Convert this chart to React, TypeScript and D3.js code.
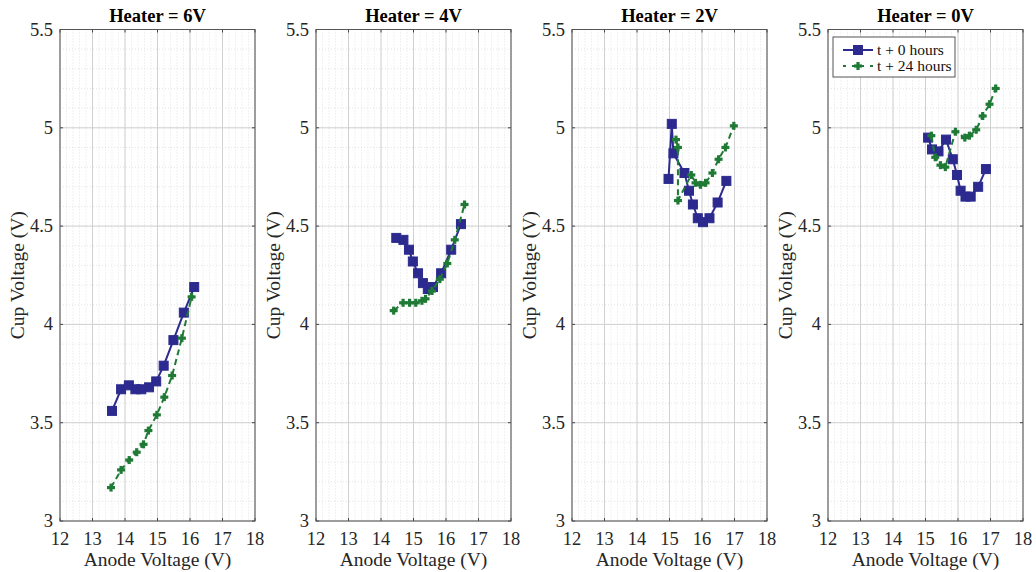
import * as d3 from "d3";

const titles = ["Heater = 6V", "Heater = 4V", "Heater = 2V", "Heater = 0V"];
const seriesNames = ["t + 0 hours", "t + 24 hours"];
const xTicks = [12, 13, 14, 15, 16, 17, 18];
const yTicks = [3, 3.5, 4, 4.5, 5, 5.5];

// t + 0 hours
const h6x0 = [13.6, 13.88, 14.12, 14.32, 14.5, 14.74, 14.96, 15.19, 15.49, 15.81, 16.13];
const h6y0 = [3.56, 3.67, 3.69, 3.67, 3.67, 3.68, 3.71, 3.79, 3.92, 4.06, 4.19];
const h4x0 = [14.47, 14.69, 14.86, 14.98, 15.14, 15.29, 15.44, 15.6, 15.85, 16.16, 16.46];
const h4y0 = [4.44, 4.43, 4.38, 4.32, 4.26, 4.21, 4.18, 4.19, 4.26, 4.38, 4.51];
const h2x0 = [14.97, 15.07, 15.12, 15.46, 15.6, 15.72, 15.87, 16.03, 16.23, 16.48, 16.75];
const h2y0 = [4.74, 5.02, 4.87, 4.77, 4.68, 4.61, 4.54, 4.52, 4.54, 4.62, 4.73];
const h0x0 = [15.08, 15.2, 15.4, 15.63, 15.84, 15.97, 16.08, 16.23, 16.39, 16.62, 16.86];
const h0y0 = [4.95, 4.89, 4.88, 4.94, 4.84, 4.76, 4.68, 4.65, 4.65, 4.7, 4.79];

// t + 24 hours
const h6x24 = [13.57, 13.88, 14.13, 14.36, 14.57, 14.72, 14.98, 15.21, 15.45, 15.75, 16.05];
const h6y24 = [3.17, 3.26, 3.31, 3.35, 3.39, 3.46, 3.54, 3.63, 3.74, 3.93, 4.14];
const h4x24 = [14.39, 14.68, 14.88, 15.07, 15.26, 15.37, 15.57, 15.81, 16.04, 16.27, 16.57];
const h4y24 = [4.07, 4.11, 4.11, 4.11, 4.12, 4.13, 4.17, 4.23, 4.31, 4.43, 4.61];
const h2x24 = [15.2, 15.26, 15.26, 15.67, 15.8, 15.95, 16.11, 16.32, 16.51, 16.72, 16.98];
const h2y24 = [4.94, 4.9, 4.63, 4.76, 4.72, 4.71, 4.72, 4.77, 4.84, 4.9, 5.01];
const h0x24 = [15.18, 15.3, 15.46, 15.61, 15.92, 16.21, 16.35, 16.56, 16.76, 16.97, 17.16];
const h0y24 = [4.96, 4.85, 4.81, 4.8, 4.98, 4.95, 4.96, 4.99, 5.06, 5.12, 5.2];

const panels = [
  { x0: h6x0, y0: h6y0, x24: h6x24, y24: h6y24 },
  { x0: h4x0, y0: h4y0, x24: h4x24, y24: h4y24 },
  { x0: h2x0, y0: h2y0, x24: h2x24, y24: h2y24 },
  { x0: h0x0, y0: h0y0, x24: h0x24, y24: h0y24 },
];

const W = 1036;
const H = 572;
const panelLeft = [60, 316, 572, 828];
const pw = 195;
const top = 29.5;
const bottom = 521;
const blue = "#2c2a8e";
const green = "#1f7a36";
const textCol = "#262626";
const font = "'Liberation Serif', 'Times New Roman', serif";

const Plus = ({ x, y }: { x: number; y: number }) => (
  <g>
    <line x1={x - 4} x2={x + 4} y1={y} y2={y} stroke={green} strokeWidth={3.2} />
    <line x1={x} x2={x} y1={y - 4} y2={y + 4} stroke={green} strokeWidth={3.2} />
  </g>
);

const Square = ({ x, y }: { x: number; y: number }) => (
  <rect x={x - 4.5} y={y - 4.5} width={9} height={9} fill={blue} stroke={blue} />
);

const Panel = ({ i }: { i: number }) => {
  const left = panelLeft[i];
  const x = d3.scaleLinear().domain([12, 18]).range([left, left + pw]);
  const y = d3.scaleLinear().domain([3, 5.5]).range([bottom, top]);
  const p = panels[i];
  const line = d3.line<[number, number]>().x((d) => x(d[0])).y((d) => y(d[1]));
  const pts0 = p.x0.map((v, k) => [v, p.y0[k]] as [number, number]);
  const pts24 = p.x24.map((v, k) => [v, p.y24[k]] as [number, number]);
  const xMinor = d3.range(12, 18.001, 0.2);
  const yMinor = d3.range(3, 5.5001, 0.1);

  return (
    <g>
      <rect x={left} y={top} width={pw} height={bottom - top} fill="#fff" />
      {/* minor grid */}
      {xMinor.map((v) => (
        <line key={"xm" + v} x1={x(v)} x2={x(v)} y1={top} y2={bottom} stroke="#d8d8d8" strokeWidth={0.7} strokeDasharray="1,2" />
      ))}
      {yMinor.map((v) => (
        <line key={"ym" + v} x1={left} x2={left + pw} y1={y(v)} y2={y(v)} stroke="#d8d8d8" strokeWidth={0.7} strokeDasharray="1,2" />
      ))}
      {/* major grid */}
      {xTicks.map((v) => (
        <line key={"xg" + v} x1={x(v)} x2={x(v)} y1={top} y2={bottom} stroke="#d0d0d0" strokeWidth={1} />
      ))}
      {yTicks.map((v) => (
        <line key={"yg" + v} x1={left} x2={left + pw} y1={y(v)} y2={y(v)} stroke="#d0d0d0" strokeWidth={1} />
      ))}
      {/* ticks */}
      {xTicks.map((v) => (
        <g key={"xt" + v}>
          <line x1={x(v)} x2={x(v)} y1={bottom} y2={bottom - 3} stroke="#444" />
          <line x1={x(v)} x2={x(v)} y1={top} y2={top + 3} stroke="#444" />
          <text x={x(v)} y={bottom + 24} textAnchor="middle" fontSize={18.5} fill={textCol} fontFamily={font}>
            {v}
          </text>
        </g>
      ))}
      {yTicks.map((v) => (
        <g key={"yt" + v}>
          <line x1={left} x2={left + 3} y1={y(v)} y2={y(v)} stroke="#444" />
          <line x1={left + pw} x2={left + pw - 3} y1={y(v)} y2={y(v)} stroke="#444" />
          <text x={left - 7} y={y(v) + 6} textAnchor="end" fontSize={18.5} fill={textCol} fontFamily={font}>
            {v}
          </text>
        </g>
      ))}
      <rect x={left} y={top} width={pw} height={bottom - top} fill="none" stroke="#555" strokeWidth={1} />

      {/* series */}
      <path d={line(pts0) ?? ""} fill="none" stroke={blue} strokeWidth={2} />
      {pts0.map((d, k) => (
        <Square key={"s" + k} x={x(d[0])} y={y(d[1])} />
      ))}
      <path d={line(pts24) ?? ""} fill="none" stroke={green} strokeWidth={2} strokeDasharray="6,4" />
      {pts24.map((d, k) => (
        <Plus key={"p" + k} x={x(d[0])} y={y(d[1])} />
      ))}

      <text x={left + pw / 2} y={22} textAnchor="middle" fontSize={18.5} fontWeight="bold" fill="#000" fontFamily={font}>
        {titles[i]}
      </text>
      <text x={left + pw / 2} y={566} textAnchor="middle" fontSize={19.5} fill={textCol} fontFamily={font}>
        Anode Voltage (V)
      </text>
      <text
        transform={`translate(${left - 36},${(top + bottom) / 2}) rotate(-90)`}
        textAnchor="middle"
        fontSize={19.5}
        fill={textCol}
        fontFamily={font}
      >
        Cup Voltage (V)
      </text>
    </g>
  );
};

const Legend = () => {
  const lx = 833;
  const ly = 37;
  return (
    <g>
      <rect x={lx} y={ly} width={122} height={40} fill="#fff" stroke="#555" strokeWidth={1} />
      <line x1={lx + 10} x2={lx + 40} y1={ly + 13} y2={ly + 13} stroke={blue} strokeWidth={2} />
      <Square x={lx + 25} y={ly + 13} />
      <text x={lx + 44} y={ly + 18} fontSize={15.5} fill="#111" fontFamily={font}>
        {seriesNames[0]}
      </text>
      <line x1={lx + 10} x2={lx + 40} y1={ly + 29} y2={ly + 29} stroke={green} strokeWidth={2} strokeDasharray="3,6" />
      <Plus x={lx + 25} y={ly + 29} />
      <text x={lx + 44} y={ly + 34} fontSize={15.5} fill="#111" fontFamily={font}>
        {seriesNames[1]}
      </text>
    </g>
  );
};

export default function App() {
  return (
    <svg width={W} height={H} style={{ position: "absolute", left: 0, top: 0, background: "#fff" }}>
      <rect width={W} height={H} fill="#fff" />
      {panels.map((_, i) => (
        <Panel key={i} i={i} />
      ))}
      <Legend />
    </svg>
  );
}
